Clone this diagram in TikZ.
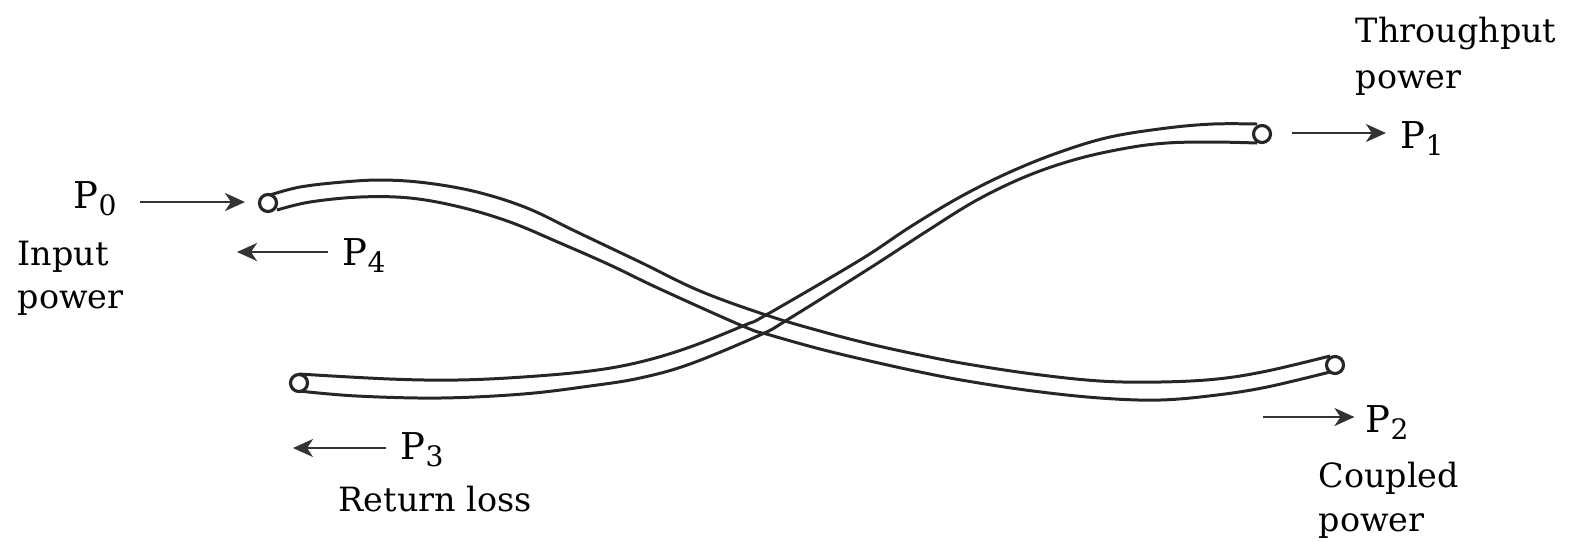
\documentclass[tikz,border=0pt]{standalone}
\usepackage{fontspec}
\setmainfont{DejaVu Serif}
\usetikzlibrary{arrows.meta}
\newcommand{\powerlabel}[1]{P\raisebox{-0.4ex}{\fontsize{8}{8}\selectfont #1}}
\tikzset{
    fiberedge/.style={
        line width=0.85pt,
        draw=black!85
    },
    fiberend/.style={
        circle,
        draw=black!85,
        fill=white,
        line width=0.9pt,
        minimum size=1.7mm,
        inner sep=0pt
    },
    powerarrow/.style={
        -{Stealth[length=2mm,width=1.8mm,inset=0.6mm]},
        line width=0.7pt,
        draw=black!80
    },
    symbol/.style={
        anchor=base west,
        inner sep=0pt,
        font=\fontsize{10.5}{12}\selectfont,
        text=black
    },
    caption/.style={
        anchor=base west,
        inner sep=0pt,
        align=left,
        font=\fontsize{9.5}{12.4}\selectfont,
        text=black
    }
}

\begin{document}
\begin{tikzpicture}[x=0.01cm,y=-0.01cm]
    \useasboundingbox (0,0) rectangle (1570,541);

    % Fiber from input to coupled port
    \draw[fiberedge] plot[smooth,tension=0.6] coordinates {(270,195) (300,187) (343,182) (383,180) (427,183) (477,192) (527,208) (577,232) (640,262) (700,291) (766,315) (820,331) (870,344) (920,355) (967,364) (1033,374) (1100,381) (1160,382) (1217,379) (1267,371) (1330,356)};
    \draw[fiberedge] plot[smooth,tension=0.6] coordinates {(277,210) (310,202) (360,197) (410,198) (460,207) (510,222) (560,243) (610,265) (660,289) (745,327) (770,335) (820,349) (870,361) (920,372) (967,381) (1033,391) (1100,398) (1160,400) (1217,395) (1267,387) (1330,372)};

    % Fiber from return port to throughput port
    \draw[fiberedge] plot[smooth,tension=0.6] coordinates {(299,374) (390,379) (457,380) (523,377) (590,371) (640,362) (690,347) (745,325) (766,315) (860,260) (910,227) (960,197) (1010,172) (1060,152) (1110,137) (1167,128) (1213,124) (1257,124)};
    \draw[fiberedge] plot[smooth,tension=0.6] coordinates {(299,391) (357,396) (440,398) (523,394) (590,386) (640,378) (690,364) (760,335) (787,320) (870,268) (927,231) (977,200) (1027,176) (1077,159) (1127,148) (1167,143) (1213,142) (1257,143)};

    % Fiber ends
    \node[fiberend] (inputend)   at (268,203)  {};
    \node[fiberend] (returnend)  at (299,383)  {};
    \node[fiberend] (throughend) at (1262,134) {};
    \node[fiberend] (coupledend) at (1335,365) {};

    % Power symbols
    \node[symbol] (pzero)  at (73,208)   {\powerlabel{0}};
    \node[symbol] (pone)   at (1400,148) {\powerlabel{1}};
    \node[symbol] (ptwo)   at (1365,432) {\powerlabel{2}};
    \node[symbol] (pthree) at (400,459)  {\powerlabel{3}};
    \node[symbol] (pfour)  at (342,265)  {\powerlabel{4}};

    % Captions
    \node[caption] (inputtext)   at (17,265)   {Input};
    \node[caption] (inputpower)  at (17,308)   {power};
    \node[caption] (throughtext) at (1355,42)  {Throughput};
    \node[caption] (throughpower) at (1355,88) {power};
    \node[caption] (coupledtext) at (1318,487) {Coupled};
    \node[caption] (coupledpower) at (1318,531) {power};
    \node[caption] (returntext)  at (338,511)  {Return loss};

    % Arrow heads stop short of the ends and symbols
    \coordinate (inhead)      at (245,202);
    \coordinate (backhead)    at (237,252);
    \coordinate (returnhead)  at (293,448);
    \coordinate (throughtail) at (1292,133);
    \coordinate (coupledtail) at (1263,417);

    \draw[powerarrow, shorten <=2.3mm] (pzero.east |- inhead) -- (inhead);
    \draw[powerarrow, shorten <=4pt] (pfour.west |- backhead) -- (backhead);
    \draw[powerarrow, shorten <=4pt] (pthree.west |- returnhead) -- (returnhead);
    \draw[powerarrow, shorten >=4pt] (throughtail) -- (pone.west |- throughtail);
    \draw[powerarrow, shorten >=3pt] (coupledtail) -- (ptwo.west |- coupledtail);
\end{tikzpicture}
\end{document}
